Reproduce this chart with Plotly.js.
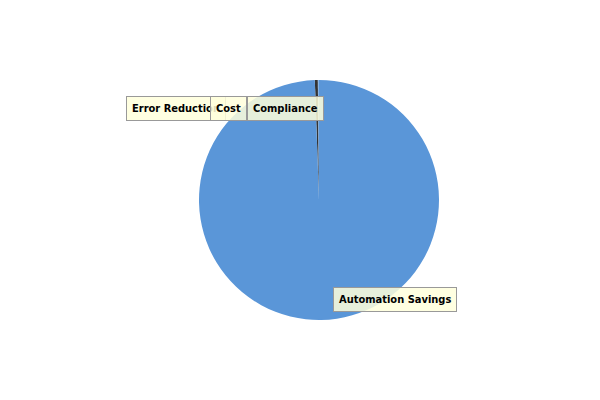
<!DOCTYPE html>
<html>
<head>
<script src="https://cdn.plot.ly/plotly-3.0.1.min.js"></script>
<style>body{margin:0}#chart{width:600px;height:400px}</style>
</head>
<body>
<div id="chart"></div>
<script>
const labels = ['Compliance', 'Error Reduction', 'Cost', 'Automation Savings'];
const values = [4, 0.5, 0.5, 995];
const colors = ['#333333', '#5a96d8', '#5a96d8', '#5a96d8'];

// label boxes placed where the reference shows them (pixel positions)
const boxes = [
  {text: 'Error Reduction', x: 126, y: 108},
  {text: 'Cost', x: 210, y: 108},
  {text: 'Compliance', x: 247, y: 108},
  {text: 'Automation Savings', x: 333, y: 299}
];

const data = [{
  type: 'pie',
  labels: labels,
  values: values,
  sort: false,
  direction: 'clockwise',
  rotation: -2,
  textinfo: 'none',
  hoverinfo: 'label+value',
  marker: {colors: colors, line: {color: '#2f6aa8', width: 0}},
  domain: {x: [199 / 600, 439 / 600], y: [0.2, 0.8]}
}];

const layout = {
  width: 600, height: 400,
  margin: {l: 0, r: 0, t: 0, b: 0},
  showlegend: false,
  paper_bgcolor: '#ffffff',
  annotations: boxes.map(b => ({
    text: '<b>' + b.text + '</b>',
    xref: 'paper', yref: 'paper',
    x: b.x / 600, y: 1 - b.y / 400,
    xanchor: 'left', yanchor: 'middle',
    showarrow: false,
    bgcolor: 'rgba(255,255,220,0.85)',
    bordercolor: '#999999', borderwidth: 1, borderpad: 5,
    font: {family: 'DejaVu Sans Condensed, DejaVu Sans', size: 11, color: '#000000'}
  }))
};

Plotly.newPlot('chart', data, layout, {displayModeBar: false});
</script>
</body>
</html>
